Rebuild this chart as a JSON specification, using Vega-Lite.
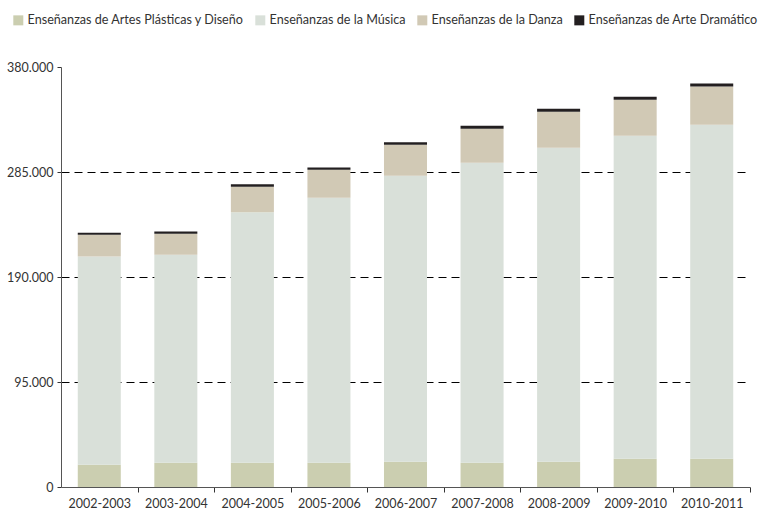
{
  "$schema": "https://vega.github.io/schema/vega-lite/v6.json",
  "width": 689,
  "height": 420,
  "autosize": "none",
  "padding": {"left": 61, "top": 67, "right": 14, "bottom": 27},
  "background": "white",
  "data": {
    "values": [
      {"curso": "2002-2003", "Enseñanzas de Artes Plásticas y Diseño": 20200, "Enseñanzas de la Música": 188400, "Enseñanzas de la Danza": 19700, "Enseñanzas de Arte Dramático": 1800},
      {"curso": "2003-2004", "Enseñanzas de Artes Plásticas y Diseño": 22000, "Enseñanzas de la Música": 188200, "Enseñanzas de la Danza": 19000, "Enseñanzas de Arte Dramático": 2000},
      {"curso": "2004-2005", "Enseñanzas de Artes Plásticas y Diseño": 22000, "Enseñanzas de la Música": 226500, "Enseñanzas de la Danza": 23200, "Enseñanzas de Arte Dramático": 2200},
      {"curso": "2005-2006", "Enseñanzas de Artes Plásticas y Diseño": 22000, "Enseñanzas de la Música": 239700, "Enseñanzas de la Danza": 25400, "Enseñanzas de Arte Dramático": 2000},
      {"curso": "2006-2007", "Enseñanzas de Artes Plásticas y Diseño": 22900, "Enseñanzas de la Música": 258800, "Enseñanzas de la Danza": 28000, "Enseñanzas de Arte Dramático": 2300},
      {"curso": "2007-2008", "Enseñanzas de Artes Plásticas y Diseño": 22000, "Enseñanzas de la Música": 271400, "Enseñanzas de la Danza": 30800, "Enseñanzas de Arte Dramático": 2600},
      {"curso": "2008-2009", "Enseñanzas de Artes Plásticas y Diseño": 22900, "Enseñanzas de la Música": 284100, "Enseñanzas de la Danza": 32600, "Enseñanzas de Arte Dramático": 2700},
      {"curso": "2009-2010", "Enseñanzas de Artes Plásticas y Diseño": 25600, "Enseñanzas de la Música": 292200, "Enseñanzas de la Danza": 32600, "Enseñanzas de Arte Dramático": 2700},
      {"curso": "2010-2011", "Enseñanzas de Artes Plásticas y Diseño": 25600, "Enseñanzas de la Música": 302200, "Enseñanzas de la Danza": 34600, "Enseñanzas de Arte Dramático": 2600}
    ]
  },
  "transform": [
    {"fold": ["Enseñanzas de Artes Plásticas y Diseño", "Enseñanzas de la Música", "Enseñanzas de la Danza", "Enseñanzas de Arte Dramático"], "as": ["serie", "alumnos"]},
    {"calculate": "indexof(['Enseñanzas de Artes Plásticas y Diseño', 'Enseñanzas de la Música', 'Enseñanzas de la Danza', 'Enseñanzas de Arte Dramático'], datum.serie)", "as": "orden"}
  ],
  "mark": {"type": "bar"},
  "encoding": {
    "x": {
      "field": "curso",
      "type": "nominal",
      "sort": null,
      "scale": {"paddingInner": 0.438, "paddingOuter": 0.219},
      "axis": {
        "title": null,
        "labelAngle": 0,
        "tickOffset": 38.3,
        "labelOffset": -38.3,
        "tickSize": 5,
        "tickColor": "#333333",
        "domainColor": "#555555",
        "labelPadding": 5,
        "labelFontSize": 12.5,
        "labelColor": "#333333"
      }
    },
    "y": {
      "field": "alumnos",
      "type": "quantitative",
      "stack": "zero",
      "scale": {"domain": [0, 380000], "nice": false},
      "axis": {
        "title": null,
        "values": [0, 95000, 190000, 285000, 380000],
        "labelExpr": "replace(format(datum.value, ','), ',', '.')",
        "tickSize": 4,
        "tickColor": "#333333",
        "domainColor": "#555555",
        "labelPadding": 4,
        "labelFontSize": 12.5,
        "labelColor": "#333333",
        "grid": true,
        "gridColor": "#000000",
        "gridDash": [8, 5],
        "gridWidth": 1,
        "gridOpacity": {"condition": {"test": "datum.value === 0 || datum.value === 380000", "value": 0}, "value": 1}
      }
    },
    "color": {
      "field": "serie",
      "type": "nominal",
      "sort": ["Enseñanzas de Artes Plásticas y Diseño", "Enseñanzas de la Música", "Enseñanzas de la Danza", "Enseñanzas de Arte Dramático"],
      "scale": {
        "domain": ["Enseñanzas de Artes Plásticas y Diseño", "Enseñanzas de la Música", "Enseñanzas de la Danza", "Enseñanzas de Arte Dramático"],
        "range": ["#cbceb0", "#d9e0d9", "#d1c9b5", "#231f20"]
      },
      "legend": {
        "title": null,
        "orient": "none",
        "direction": "horizontal",
        "legendX": -49,
        "legendY": -53,
        "symbolType": "square",
        "symbolSize": 100,
        "symbolStrokeWidth": 0,
        "labelOffset": 3,
        "columnPadding": 10,
        "labelFontSize": 12.6,
        "labelColor": "#333333",
        "labelLimit": 400
      }
    },
    "order": {"field": "orden", "type": "quantitative", "sort": "ascending"}
  },
  "config": {
    "font": "Lato, sans-serif",
    "view": {"stroke": null},
    "axis": {"labelFont": "Lato, sans-serif"},
    "legend": {"labelFont": "Lato, sans-serif"}
  }
}
